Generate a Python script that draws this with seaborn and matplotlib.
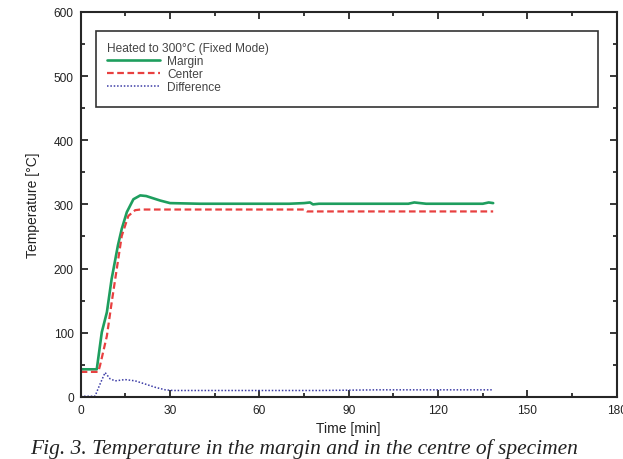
import numpy as np
import pandas as pd
import seaborn as sns
import matplotlib.pyplot as plt
from matplotlib.patches import Rectangle
from matplotlib.ticker import MultipleLocator

# valores (tiempo en min, temperatura en C)
t_margin = [0, 5.4, 7.1, 8.8, 10.4, 12.5, 13.8, 15.5, 17.7, 20, 22, 24, 26.7, 30,
            40, 50, 60, 70, 75, 77, 78, 80, 90, 100, 110, 112, 114, 116, 120, 130,
            135, 137, 138.5]
T_margin = [43, 43, 101, 132, 184, 236, 262, 288, 308, 314, 313, 310, 306, 302,
            301, 301, 301, 301, 302, 303, 300, 301, 301, 301, 301, 303, 302, 301, 301, 301,
            301, 303, 302]

t_center = [0, 5.9, 6.5, 8.8, 10.4, 12.1, 13.8, 16, 18.3, 20, 25, 30, 40, 50, 60,
            70, 75, 76, 90, 100, 110, 120, 130, 138.5]
T_center = [39, 39, 49, 95, 147, 199, 251, 282, 291, 292, 292, 292, 292, 292, 292,
            292, 292, 289, 289, 289, 289, 289, 289, 289]

t_diff = [0, 4.8, 6.5, 8.2, 9.9, 11.6, 14.9, 18.3, 21.7, 25, 28.4, 31, 40, 60, 80,
          100, 120, 138.5]
T_diff = [1, 1, 20, 38, 28, 25, 27, 25, 20, 15, 11, 10, 10, 10, 10, 11, 11, 11]

series = ["Margin", "Center", "Difference"]
legend_title = "Heated to 300°C (Fixed Mode)"
caption = "Fig. 3. Temperature in the margin and in the centre of specimen"

df_m = pd.DataFrame({"t": t_margin, "T": T_margin})
df_c = pd.DataFrame({"t": t_center, "T": T_center})
df_d = pd.DataFrame({"t": t_diff, "T": T_diff})

sns.set_style("ticks")
plt.rcParams["font.family"] = ["Liberation Sans", "DejaVu Sans"]

fig = plt.figure(figsize=(6.23, 4.60), dpi=100)
ax = fig.add_axes([0.1295, 0.135, 0.8605, 0.837])

sns.lineplot(data=df_m, x="t", y="T", ax=ax, color="#1e9e5e", lw=1.9, label=series[0])
sns.lineplot(data=df_c, x="t", y="T", ax=ax, color="#e84040", lw=1.6,
             linestyle=(0, (3, 1.6)), label=series[1])
sns.lineplot(data=df_d, x="t", y="T", ax=ax, color="#3c3ca6", lw=1.1,
             linestyle=(0, (1, 1.2)), label=series[2])

ax.set_xlim(0, 180)
ax.set_ylim(0, 600)
ax.xaxis.set_major_locator(MultipleLocator(30))
ax.xaxis.set_minor_locator(MultipleLocator(15))
ax.yaxis.set_major_locator(MultipleLocator(100))
ax.yaxis.set_minor_locator(MultipleLocator(50))
ax.tick_params(which="both", direction="in", top=True, right=True,
               labelsize=8.6, labelcolor="#222222", width=1.3)
ax.tick_params(which="major", length=5, pad=5)
ax.tick_params(which="minor", length=3)
for s in ax.spines.values():
    s.set_linewidth(1.5)

ax.set_xlabel("Time [min]", fontsize=10, color="#222222", labelpad=4)
ax.set_ylabel("Temperature [°C]", fontsize=10, color="#222222", labelpad=10)

# caja de la leyenda
ax.add_patch(Rectangle((0.0285, 0.753), 0.9365, 0.198, transform=ax.transAxes,
                       fill=False, ec="#333333", lw=1.2, zorder=5))
leg = ax.legend(title=legend_title, loc="upper left", bbox_to_anchor=(0.034, 0.943),
                frameon=False, fontsize=8.6, title_fontsize=8.6, handlelength=4.4,
                handletextpad=0.6, labelspacing=0.08, borderpad=0.2,
                alignment="left")
leg.get_title().set_color("#444444")
for txt in leg.get_texts():
    txt.set_color("#444444")

fig.text(30 / 623, 1 - 449 / 460, caption, fontsize=15.5, family="Liberation Serif",
         style="italic", va="center", ha="left", color="#222222")

fig.savefig("out.png", dpi=100)
